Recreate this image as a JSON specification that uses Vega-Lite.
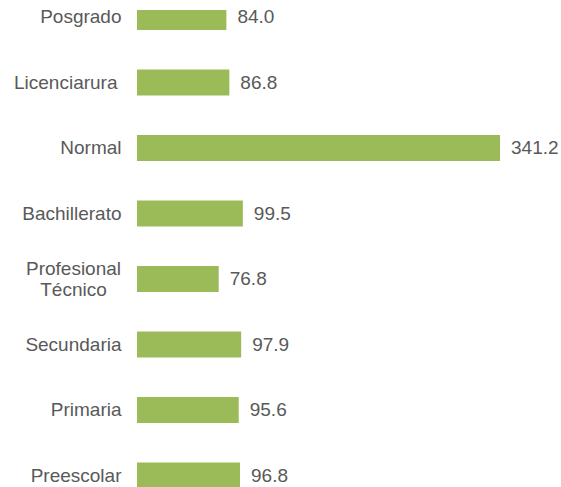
{
  "$schema": "https://vega.github.io/schema/vega-lite/v6.json",
  "autosize": "none",
  "width": 424,
  "height": 477,
  "padding": {"left": 137, "top": 10, "right": 0, "bottom": 0},
  "background": "white",
  "config": {"view": {"stroke": null}, "font": "Liberation Sans"},
  "data": {"values": [
    {"nivel": "Posgrado", "valor": 84.0},
    {"nivel": "Licenciarura", "valor": 86.8},
    {"nivel": "Normal", "valor": 341.2},
    {"nivel": "Bachillerato", "valor": 99.5},
    {"nivel": "Profesional Técnico", "valor": 76.8},
    {"nivel": "Secundaria", "valor": 97.9},
    {"nivel": "Primaria", "valor": 95.6},
    {"nivel": "Preescolar", "valor": 96.8}
  ]},
  "encoding": {
    "y": {
      "field": "nivel", "type": "nominal", "sort": null,
      "scale": {"range": [-25.75, 498.25], "paddingInner": 0.603, "paddingOuter": 0.3015},
      "axis": {
        "title": null, "domain": false, "ticks": false,
        "labelFontSize": 19, "labelColor": "#595959",
        "labelFont": "Liberation Sans", "labelLineHeight": 21,
        "labelPadding": {"condition": [
          {"test": "datum.value == 'Profesional Técnico'", "value": 64},
          {"test": "datum.value == 'Licenciarura'", "value": 20}
        ], "value": 16},
        "labelAlign": {"condition": {"test": "datum.value == 'Profesional Técnico'", "value": "center"}, "value": "right"},
        "labelOffset": {"condition": {"test": "datum.value == 'Profesional Técnico'", "value": -10.5}, "value": 0},
        "labelExpr": "datum.value == 'Profesional Técnico' ? ['Profesional', 'Técnico'] : datum.value"
      }
    }
  },
  "layer": [
    {
      "mark": {"type": "bar", "color": "#9BBB59", "clip": true},
      "encoding": {
        "x": {"field": "valor", "type": "quantitative", "scale": {"domain": [0, 398.5], "nice": false}, "axis": null}
      }
    },
    {
      "mark": {"type": "text", "align": "left", "baseline": "middle", "dx": 11, "fontSize": 19, "color": "#595959", "font": "Liberation Sans"},
      "encoding": {
        "x": {"field": "valor", "type": "quantitative"},
        "text": {"field": "valor", "type": "quantitative", "format": ".1f"}
      }
    },
    {
      "mark": {"type": "rule", "color": "#A6A6A6", "strokeWidth": 1},
      "encoding": {"x": {"datum": 0}}
    }
  ]
}
